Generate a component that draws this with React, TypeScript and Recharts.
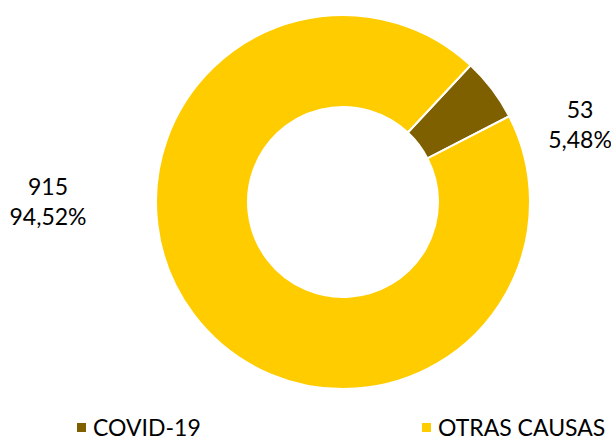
import React from 'react';
import { PieChart, Pie, Cell, Legend } from 'recharts';

const categories = ['COVID-19', 'OTRAS CAUSAS'];
const counts = [53, 915];
const percents = ['5,48%', '94,52%'];
const COLORS = ['#7F6000', '#FFCC00'];

const data = categories.map((name, i) => ({ name, value: counts[i], pct: percents[i] }));

const FONT = 'Lato, "Open Sans", sans-serif';

// label placement per slice (distance beyond the ring, vertical shift)
const LABEL_OFFSETS = [
  { dx: 50, dy: -77 },
  { dx: -108, dy: 0 },
];
const LEGEND_LEFT = [77, 422];

const renderLabel = (props: any) => {
  const { cx, cy, outerRadius, index } = props;
  const off = LABEL_OFFSETS[index];
  const x = off.dx > 0 ? cx + outerRadius + off.dx : cx - outerRadius + off.dx;
  const y = cy + off.dy;
  return (
    <text x={x} y={y} textAnchor="middle" fill="#000" fontFamily={FONT} fontSize={23}>
      <tspan x={x} dy={-7}>{data[index].value}</tspan>
      <tspan x={x} dy={30}>{data[index].pct}</tspan>
    </text>
  );
};

const renderLegend = () => (
  <div style={{ position: 'relative', width: 611, height: 22, fontFamily: FONT, fontSize: 23, lineHeight: '22px', color: '#000' }}>
    {data.map((d, i) => (
      <div key={d.name} style={{ position: 'absolute', left: LEGEND_LEFT[i], top: 0, height: 22, display: 'flex', alignItems: 'center', whiteSpace: 'nowrap' }}>
        <span style={{ width: 9, height: 9, background: COLORS[i], display: 'inline-block', marginRight: 7 }} />
        <span>{d.name}</span>
      </div>
    ))}
  </div>
);

export default function App() {
  return (
    <div style={{ position: 'absolute', left: 0, top: 0, width: 611, height: 441, background: '#fff', overflow: 'hidden' }}>
      <PieChart width={611} height={441} margin={{ top: 0, right: 0, bottom: 0, left: 0 }}>
        <Pie
          data={data}
          dataKey="value"
          nameKey="name"
          cx={343}
          cy={202}
          innerRadius={95}
          outerRadius={187}
          startAngle={47}
          endAngle={-313}
          stroke="#fff"
          strokeWidth={2}
          label={renderLabel}
          labelLine={false}
          isAnimationActive={false}
        >
          {data.map((_, i) => (
            <Cell key={i} fill={COLORS[i]} />
          ))}
        </Pie>
        <Legend
          content={renderLegend}
          wrapperStyle={{ position: 'absolute', left: 0, top: 416, width: 611, height: 22 }}
        />
      </PieChart>
    </div>
  );
}
